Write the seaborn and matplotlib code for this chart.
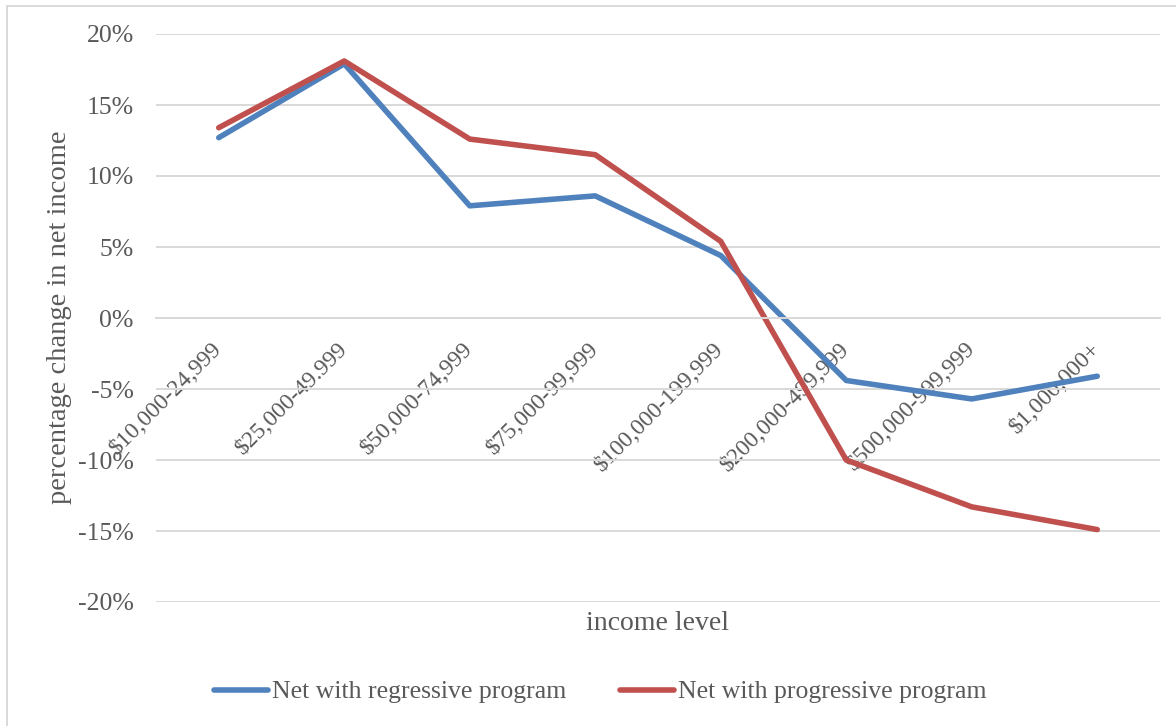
import numpy as np
import pandas as pd
import seaborn as sns
import matplotlib.pyplot as plt
from matplotlib.patches import Rectangle
from matplotlib.ticker import FuncFormatter

# Einkommensklassen und Werte (in Prozent)
income_levels = ['$10,000-24,999', '$25,000-49.999', '$50,000-74,999', '$75,000-99,999',
                 '$100,000-199,999', '$200,000-499,999', '$500,000-999,999', '$1,000,000+']
regressive = [12.7, 17.9, 7.9, 8.6, 4.4, -4.4, -5.7, -4.1]
progressive = [13.4, 18.1, 12.6, 11.5, 5.4, -10.0, -13.3, -14.9]
series_names = ['Net with regressive program', 'Net with progressive program']
colors = ['#4F81BD', '#C0504D']

# Long-Format fuer seaborn
df = pd.DataFrame({
    'x': list(range(len(income_levels))) * 2,
    'value': regressive + progressive,
    'series': [series_names[0]] * len(regressive) + [series_names[1]] * len(progressive),
})

sns.set_style('white')
plt.rcParams['font.family'] = ['Liberation Serif', 'DejaVu Serif']

fig = plt.figure(figsize=(11.76, 7.26), dpi=100)
ax = fig.add_axes([156 / 1176, 1 - 602 / 726, (1160 - 156) / 1176, (602 - 34) / 726])

sns.lineplot(data=df, x='x', y='value', hue='series', palette=colors,
             linewidth=4.0, ax=ax, legend=False)

ax.set_xlim(-0.5, 7.5)
ax.set_ylim(-20, 20)
ax.set_yticks(np.arange(-20, 21, 5))
ax.yaxis.set_major_formatter(FuncFormatter(lambda v, p: f'{v:.0f}%'))
ax.grid(axis='y', color='#D9D9D9', linewidth=1.4)
ax.set_axisbelow(True)
for s in ['left', 'right', 'top']:
    ax.spines[s].set_visible(False)
ax.spines['bottom'].set_position(('data', 0))
ax.spines['bottom'].set_color('#D9D9D9')
ax.spines['bottom'].set_linewidth(1.4)

ax.set_xticks(range(len(income_levels)))
ax.set_xticklabels(income_levels, rotation=45, ha='right', va='center',
                   rotation_mode='anchor')
ax.tick_params(axis='x', length=0, pad=20, labelsize=17, labelcolor='#595959')
ax.tick_params(axis='y', length=0, pad=16, labelsize=18.5, labelcolor='#595959')

ax.set_xlabel('')
ax.set_ylabel('')
fig.text(60 / 1176, 1 - 317 / 726, 'percentage change in net income', rotation=90,
         ha='center', va='center', fontsize=20.5, color='#595959')
fig.text(657 / 1176, 1 - 623 / 726, 'income level', ha='center', va='center',
         fontsize=20, color='#595959')

handles = [plt.Line2D([], [], color=c, linewidth=4.0) for c in colors]
fig.legend(handles, series_names, loc='center', bbox_to_anchor=(600 / 1176, 1 - 692 / 726),
           ncol=2, frameon=False, fontsize=18.5, handlelength=2.1, handletextpad=0.15,
           columnspacing=2.1, labelcolor='#595959')

# Rahmen des Diagrammbereichs (nur links und oben sichtbar)
fig.patches.append(Rectangle((7 / 1176, -0.1), 1.2, 1.1 - 6 / 726,
                             transform=fig.transFigure, fill=False,
                             edgecolor='#D9D9D9', linewidth=1.4))

plt.savefig('out.png', dpi=100)
plt.close()
